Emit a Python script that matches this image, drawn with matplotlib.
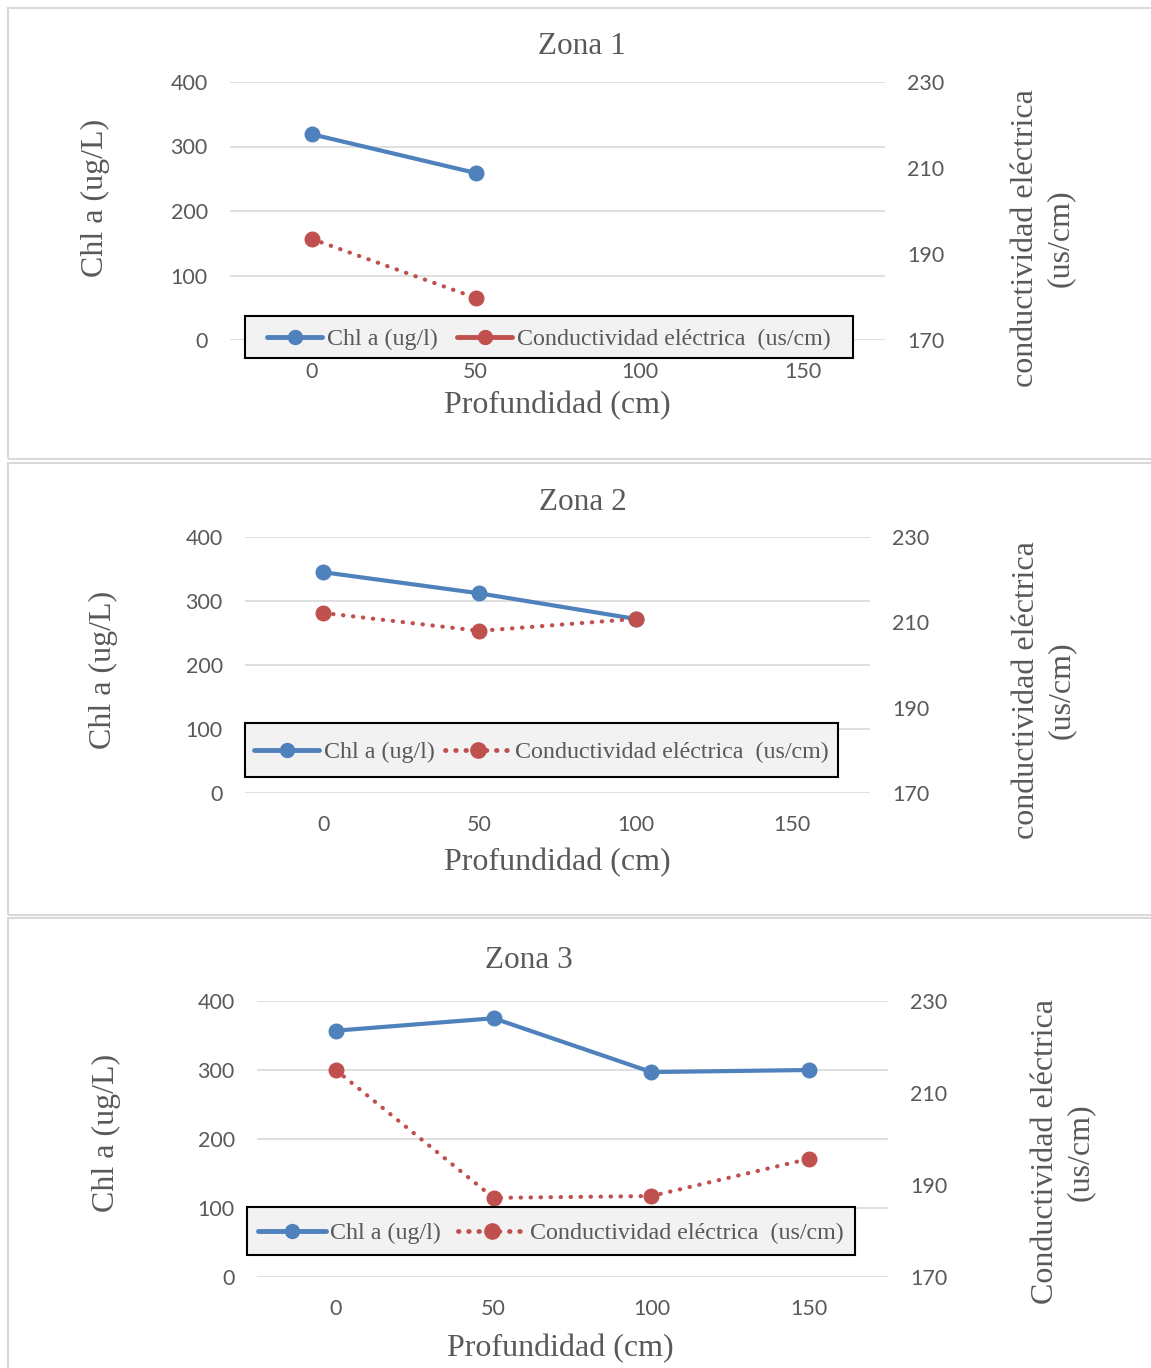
import matplotlib
matplotlib.use('Agg')
import matplotlib.pyplot as plt
from matplotlib.lines import Line2D
from matplotlib.patches import Rectangle

# datos
profundidad_1 = [0, 50]
chl_1 = [319, 259]
cond_1 = [193.5, 179.8]

profundidad_2 = [0, 50, 100]
chl_2 = [345, 312, 272]
cond_2 = [212.2, 208.0, 210.8]

profundidad_3 = [0, 50, 100, 150]
chl_3 = [357, 375, 297, 300]
cond_3 = [215.0, 187.2, 187.6, 195.7]

titulos = ['Zona 1', 'Zona 2', 'Zona 3']
lab_der = ['conductividad eléctrica\n(us/cm)', 'conductividad eléctrica\n(us/cm)',
           'Conductividad eléctrica\n(us/cm)']
lab_izq = 'Chl a (ug/L)'
lab_x = 'Profundidad (cm)'
leg_chl = 'Chl a (ug/l)'
leg_cond = 'Conductividad eléctrica  (us/cm)'

x_ticks = [0, 50, 100, 150]
chl_ticks = [0, 100, 200, 300, 400]
cond_ticks = [170, 190, 210, 230]

W, H = 1151, 1368
AZUL = '#4f81bd'
ROJO = '#c0504d'
GRIS = '#595959'
SERIF = ['Liberation Serif', 'DejaVu Serif']
SANS = ['Lato', 'DejaVu Sans']

fig = plt.figure(figsize=(W / 100, H / 100), dpi=100)


def fx(x):
    return x / W


def fy(y):
    return 1 - y / H


# marcos de cada panel
for top, bot in [(8, 459), (463, 915), (918, 1375)]:
    fig.patches.append(Rectangle((fx(8), fy(bot)), fx(1160 - 8), (bot - top) / H,
                                 transform=fig.transFigure, fill=False,
                                 edgecolor='#d9d9d9', lw=1.5, zorder=0))

paneles = [
    # datos, caja de ejes (izq, der, arriba, abajo), caja leyenda, posiciones de textos
    dict(x=profundidad_1, chl=chl_1, cond=cond_1, ax=(230, 885, 82, 340),
         leg=(245, 853, 316, 358), leg_solid=True, hl=2.3, cs=0.8,
         tit=(582, 47), xl=(557, 406), yl=(95, 198), yr=(1043, 238)),
    dict(x=profundidad_2, chl=chl_2, cond=cond_2, ax=(245, 870, 537, 793),
         leg=(245, 838, 723, 777), leg_solid=False, hl=2.7, cs=0.45,
         tit=(583, 503), xl=(557, 863), yl=(103, 670), yr=(1044, 690)),
    dict(x=profundidad_3, chl=chl_3, cond=cond_3, ax=(257, 888, 1001, 1277),
         leg=(247, 855, 1207, 1255), leg_solid=False, hl=2.8, cs=0.7,
         tit=(529, 960), xl=(560, 1349), yl=(106, 1133), yr=(1063, 1152)),
]

for i, p in enumerate(paneles):
    l, r, t, b = p['ax']
    ax = fig.add_axes([fx(l), fy(b), (r - l) / W, (b - t) / H])
    ax2 = ax.twinx()

    ax.plot(p['x'], p['chl'], color=AZUL, lw=3, marker='o', ms=10.5,
            solid_capstyle='round', zorder=3)
    ax2.plot(p['x'], p['cond'], color=ROJO, lw=3, marker='o', ms=10.5,
             linestyle=(0, (0.1, 2.3)), dash_capstyle='round', zorder=3)

    ax.set_xlim(-25, 175)
    ax.set_ylim(0, 400)
    ax2.set_ylim(170, 230)
    ax.set_xticks(x_ticks)
    ax.set_yticks(chl_ticks)
    ax2.set_yticks(cond_ticks)
    ax.grid(axis='y', color='#d9d9d9', lw=1.2)
    ax.set_axisbelow(True)
    for a in (ax, ax2):
        for s in a.spines.values():
            s.set_visible(False)
    ax.tick_params(length=0, labelsize=15.5, labelcolor=GRIS)
    ax.tick_params(axis='y', pad=16)
    ax.tick_params(axis='x', pad=16)
    ax2.tick_params(length=0, labelsize=15.5, labelcolor=GRIS, pad=16)
    for lab in ax.get_xticklabels() + ax.get_yticklabels() + ax2.get_yticklabels():
        lab.set_family(SANS)

    fig.text(fx(p['tit'][0]), fy(p['tit'][1]), titulos[i], ha='center', va='center',
             fontsize=22.5, family=SERIF, color=GRIS)
    fig.text(fx(p['xl'][0]), fy(p['xl'][1]), lab_x, ha='center', va='center',
             fontsize=23, family=SERIF, color=GRIS)
    fig.text(fx(p['yl'][0]), fy(p['yl'][1]), lab_izq, ha='center', va='center',
             rotation=90, fontsize=23, family=SERIF, color=GRIS)
    fig.text(fx(p['yr'][0]), fy(p['yr'][1]), lab_der[i], ha='center', va='center',
             rotation=90, fontsize=23, family=SERIF, color=GRIS, linespacing=1.25,
             multialignment='center')

    # leyenda con caja gris
    ll, lr, lt, lb = p['leg']
    fig.patches.append(Rectangle((fx(ll), fy(lb)), (lr - ll) / W, (lb - lt) / H,
                                 transform=fig.transFigure, facecolor='#f2f2f2',
                                 edgecolor='black', lw=1.5, zorder=5))
    h1 = Line2D([], [], color=AZUL, lw=3.5, marker='o', ms=10, solid_capstyle='round')
    if p['leg_solid']:
        h2 = Line2D([], [], color=ROJO, lw=3.5, marker='o', ms=10, solid_capstyle='round')
    else:
        h2 = Line2D([], [], color=ROJO, lw=3.5, marker='o', ms=11,
                    linestyle=(0, (0.1, 2.0)), dash_capstyle='round')
    leg = fig.legend([h1, h2], [leg_chl, leg_cond], loc='center',
                     bbox_to_anchor=(fx((ll + lr) / 2), fy((lt + lb) / 2 + 2)),
                     ncol=2, frameon=False, handlelength=p['hl'], handletextpad=0.2,
                     columnspacing=p['cs'], prop={'family': SERIF, 'size': 17.3})
    leg.set_zorder(6)
    for txt in leg.get_texts():
        txt.set_color(GRIS)

fig.savefig('out.png', dpi=100)
